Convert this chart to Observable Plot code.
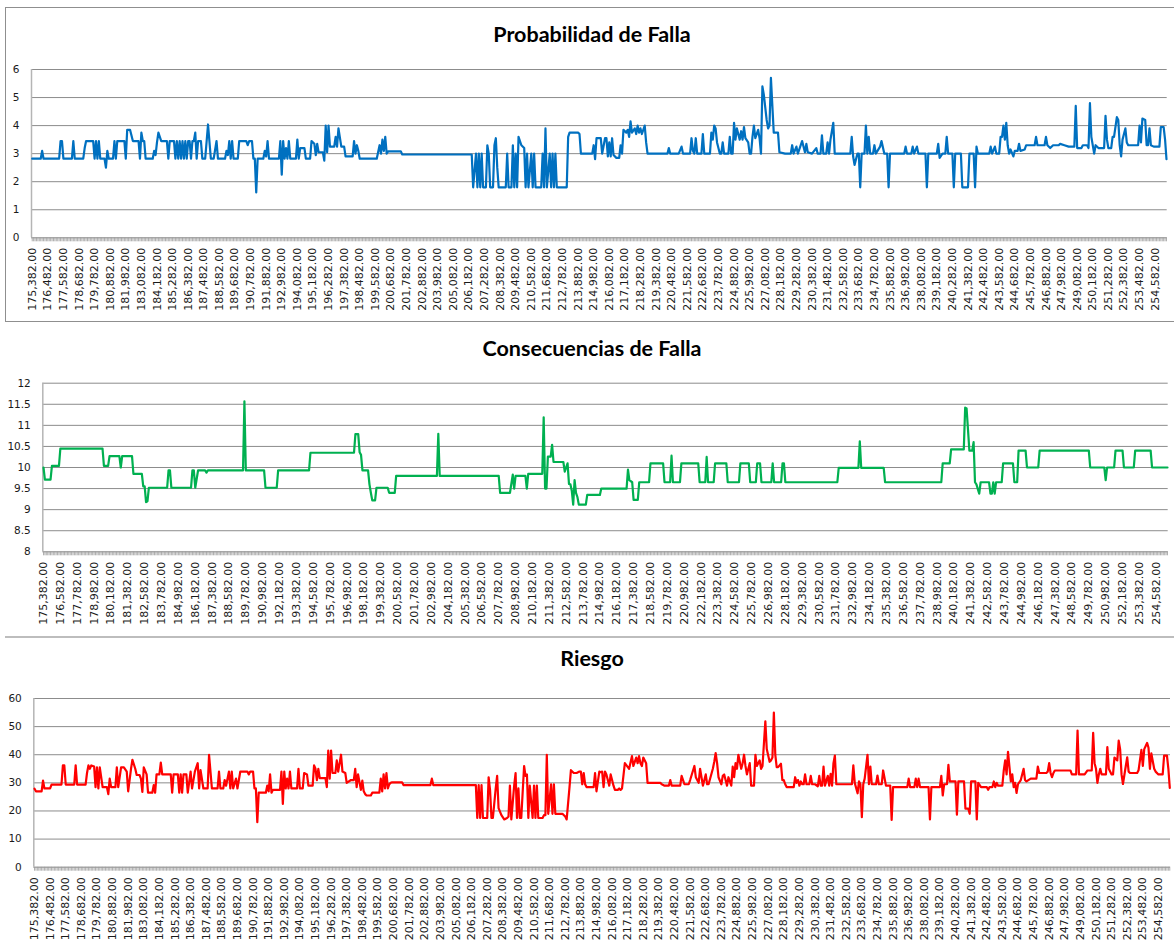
<!DOCTYPE html>
<html>
<head>
<meta charset="utf-8">
<script src="https://cdn.jsdelivr.net/npm/d3@7"></script>
<script src="https://cdn.jsdelivr.net/npm/@observablehq/plot@0.6"></script>
<style>
  html, body { margin: 0; padding: 0; background: #fff; }
  #wrap { position: relative; width: 1174px; height: 948px; overflow: hidden; background: #fff; }
  .panel { position: absolute; left: 0; }
  .title { position: absolute; transform: translateX(-50%); font-family: Lato, "Open Sans", sans-serif; font-weight: 700; font-size: 21.5px; line-height: 22px; color: #000; white-space: nowrap; }
  .box { position: absolute; box-sizing: border-box; }
</style>
</head>
<body>
<div id="wrap"></div>
<script>
// ---------------- data: [chainage (m), value] ----------------
const probabilidad = [
[175382,2.82],[175982,2.82],[176082,3.1],[176182,2.82],[177282,2.82],[177382,3.45],[177482,3.45],[177582,2.82],[178182,2.82],[178282,3.45],[178382,2.82],[178982,2.82],[179082,3.2],[179182,3.45],[179682,3.45],[179782,2.82],[179882,3.45],[179982,2.82],[180082,3.45],[180182,2.82],[180482,2.82],[180582,2.5],[180682,3.1],[180782,2.82],[181082,2.82],[181182,3.45],[181282,2.82],[181382,3.45],[181882,3.45],[181982,2.82],[182082,3.85],[182282,3.85],[182482,3.45],[182882,3.45],[182982,2.82],[183082,3.75],[183182,3.45],[183282,3.45],[183382,2.82],[183882,2.82],[183982,3.1],[184082,2.95],[184182,3.4],[184282,3.75],[184482,3.45],[184882,3.45],[184982,2.82],[185082,3.45],[185382,3.45],[185482,2.82],[185582,3.45],[185682,2.82],[185782,3.45],[185882,2.82],[185982,3.45],[186082,2.82],[186182,3.45],[186282,2.82],[186382,3.45],[186482,3.45],[186582,2.82],[186682,3.45],[186782,3.45],[186882,3.75],[186982,2.82],[187082,3.45],[187282,3.45],[187382,2.82],[187582,2.82],[187782,4.04],[187982,2.82],[188182,2.82],[188382,3.45],[188482,2.82],[188982,2.82],[189082,3.1],[189182,2.95],[189282,3.45],[189382,2.82],[189482,3.45],[189582,2.82],[189882,2.82],[189982,3.45],[190482,3.45],[190582,3.3],[190682,3.45],[190882,3.45],[190982,2.82],[191082,2.82],[191182,1.62],[191282,2.82],[191682,2.82],[191782,3.1],[191882,2.9],[191982,3.45],[192082,2.82],[192782,2.82],[192882,3.45],[192982,2.25],[193082,3.45],[193182,2.82],[193282,3.2],[193382,2.82],[193482,3.45],[193582,2.82],[193982,2.82],[194082,3.5],[194182,2.82],[194282,3.2],[194582,3.2],[194682,2.82],[194982,2.82],[195082,3.45],[195282,3.35],[195382,2.95],[195482,3.35],[195582,3.05],[195882,3.05],[195982,2.75],[196082,4.0],[196182,3.05],[196282,4.0],[196382,3.25],[196682,3.25],[196782,3.6],[196882,3.25],[196982,3.9],[197182,3.25],[197382,3.25],[197482,2.9],[197982,2.9],[198082,3.45],[198182,3.0],[198282,3.3],[198382,3.1],[198482,2.82],[199682,2.82],[199882,3.3],[199982,3.0],[200082,3.5],[200182,3.1],[200282,3.6],[200382,3.0],[200482,3.08],[201382,3.08],[201482,2.97],[206382,2.97],[206482,1.8],[206682,3.0],[206782,1.8],[206882,3.0],[206982,1.8],[207082,3.0],[207182,1.8],[207382,1.8],[207482,3.3],[207582,3.0],[207682,1.8],[207882,1.8],[207982,3.3],[208082,3.55],[208182,2.5],[208282,1.8],[208782,1.8],[208882,3.0],[208982,1.8],[209182,1.8],[209282,3.3],[209382,1.8],[209482,3.0],[209582,1.8],[209682,3.6],[209882,3.3],[210082,3.2],[210182,1.8],[210282,3.0],[210382,1.8],[210582,3.0],[210682,1.8],[210782,3.0],[210882,1.8],[211282,1.8],[211382,3.0],[211482,1.8],[211582,3.9],[211682,1.8],[211882,3.0],[211982,1.8],[212082,3.0],[212182,1.8],[212282,3.0],[212382,1.8],[213082,1.8],[213182,3.6],[213282,3.75],[213882,3.75],[213982,3.7],[214082,3.0],[214882,3.0],[214982,3.3],[215082,2.8],[215182,3.55],[215482,3.55],[215582,3.0],[215782,3.55],[215882,3.55],[215982,2.9],[216082,3.4],[216182,2.9],[216282,3.55],[216382,2.95],[216582,2.85],[216782,2.85],[216882,3.3],[216982,3.0],[217082,3.85],[217282,3.75],[217382,3.85],[217482,3.6],[217582,4.15],[217682,3.75],[217882,3.9],[217982,3.7],[218082,4.0],[218182,3.75],[218282,3.9],[218382,3.7],[218582,4.0],[218682,3.4],[218782,3.0],[220182,3.0],[220282,3.2],[220382,3.0],[220982,3.0],[221182,3.25],[221282,3.0],[221782,3.0],[221882,3.55],[221982,3.1],[222082,3.0],[222182,3.55],[222282,3.0],[222582,3.0],[222682,3.7],[222782,3.0],[223182,3.0],[223282,3.75],[223382,3.5],[223482,4.0],[223582,3.9],[223682,3.4],[223882,3.0],[223982,3.0],[224082,3.4],[224182,3.0],[224482,3.0],[224582,3.6],[224682,3.0],[224782,3.0],[224882,4.1],[224982,3.5],[225082,3.9],[225282,3.5],[225382,3.8],[225482,3.5],[225582,3.95],[225682,3.55],[225882,3.4],[225982,3.0],[226082,3.0],[226182,3.6],[226282,4.0],[226382,3.55],[226582,3.85],[226682,3.55],[226782,3.0],[226882,5.4],[226982,5.1],[227182,4.2],[227282,3.9],[227382,4.0],[227482,5.7],[227682,3.75],[227982,3.75],[228082,3.05],[228482,3.0],[228882,3.0],[228982,3.3],[229082,3.0],[229282,3.25],[229382,3.0],[229682,3.45],[229882,3.05],[229982,3.35],[230082,3.05],[230382,3.0],[230682,3.2],[230782,3.0],[230982,3.0],[231082,3.65],[231182,3.0],[231382,3.0],[231482,3.4],[231582,3.0],[231682,3.5],[231882,4.1],[231982,3.0],[233082,3.0],[233182,3.6],[233282,2.9],[233382,2.6],[233582,3.0],[233682,3.0],[233782,1.8],[233882,3.0],[234082,3.0],[234182,4.0],[234282,3.0],[234382,3.6],[234482,3.0],[234682,3.0],[234782,3.3],[234882,3.0],[235182,3.25],[235282,3.45],[235482,3.0],[235682,3.0],[235782,1.8],[235882,3.0],[236882,3.0],[236982,3.25],[237082,3.0],[237382,3.0],[237482,3.25],[237582,3.0],[237782,3.25],[237882,3.0],[238382,3.0],[238482,1.8],[238582,3.0],[239182,3.0],[239282,3.35],[239382,2.85],[239582,3.0],[239782,3.0],[239882,3.6],[239982,3.0],[240282,3.0],[240382,1.8],[240482,3.0],[240882,3.0],[240982,1.8],[241382,1.8],[241482,3.0],[241782,3.0],[241882,1.8],[241982,3.25],[242082,3.0],[242882,3.0],[242982,3.25],[243082,3.0],[243282,3.25],[243382,3.0],[243582,3.0],[243682,3.6],[243782,3.6],[243882,4.0],[243982,3.5],[244082,4.1],[244182,3.3],[244282,3.0],[244382,3.15],[244582,2.9],[244682,3.1],[244882,3.1],[244982,3.35],[245082,3.1],[245382,3.15],[245482,3.3],[246082,3.3],[246182,3.6],[246282,3.3],[246782,3.3],[246882,3.6],[246982,3.3],[247182,3.2],[247382,3.3],[247782,3.3],[247882,3.35],[248182,3.3],[248482,3.25],[248882,3.25],[248982,4.7],[249082,3.2],[249382,3.2],[249482,3.3],[249782,3.3],[249882,3.2],[249982,4.8],[250082,3.6],[250282,3.0],[250382,3.3],[250582,3.2],[250982,3.2],[251082,4.35],[251182,3.5],[251282,3.2],[251482,3.2],[251582,3.6],[251682,3.6],[251882,4.3],[251982,4.2],[252082,3.3],[252182,2.9],[252282,3.5],[252482,3.9],[252582,3.4],[252682,3.3],[253382,3.3],[253482,4.0],[253582,3.4],[253682,4.25],[253882,4.2],[253982,3.3],[254082,3.3],[254182,3.9],[254282,3.3],[254482,3.25],[254882,3.25],[254982,3.95],[255182,3.95],[255282,3.5],[255382,2.8]
];

const consecuencias = [
[175382,10.0],[175482,9.71],[175882,9.71],[175982,10.04],[176482,10.04],[176582,10.45],[179582,10.45],[179682,10.04],[179982,10.04],[180082,10.27],[180782,10.27],[180882,10.0],[180982,10.27],[181682,10.27],[181782,9.85],[182382,9.85],[182482,9.55],[182582,9.55],[182682,9.18],[182782,9.2],[182882,9.52],[184182,9.52],[184282,9.93],[184382,9.93],[184482,9.52],[185882,9.52],[185982,9.93],[186082,9.93],[186182,9.52],[186382,9.93],[186882,9.93],[186982,9.88],[187082,9.93],[189582,9.93],[189682,11.57],[189782,9.93],[191082,9.93],[191182,9.52],[191982,9.52],[192082,9.93],[194282,9.93],[194382,10.35],[197482,10.35],[197582,10.79],[197782,10.79],[197882,10.36],[197982,10.3],[198082,9.93],[198482,9.93],[198582,9.6],[198682,9.4],[198782,9.22],[198982,9.22],[199082,9.52],[199882,9.52],[199982,9.4],[200382,9.4],[200482,9.8],[203382,9.8],[203482,10.8],[203582,9.8],[207782,9.8],[207882,9.4],[208582,9.4],[208782,9.83],[208882,9.5],[208982,9.8],[209682,9.8],[209782,9.5],[209882,9.85],[210882,9.85],[210982,11.19],[211082,9.5],[211182,9.5],[211282,10.26],[211482,10.26],[211582,10.54],[211682,10.13],[212382,10.13],[212482,9.9],[212682,10.1],[212782,9.61],[212882,9.6],[212982,9.45],[213082,9.12],[213182,9.7],[213282,9.4],[213382,9.3],[213482,9.12],[213982,9.12],[214082,9.35],[214982,9.35],[215082,9.5],[216882,9.5],[216982,9.95],[217082,9.7],[217282,9.65],[217382,9.23],[217682,9.23],[217782,9.65],[218482,9.65],[218582,10.1],[219482,10.1],[219582,9.65],[219982,9.65],[220082,10.28],[220182,9.65],[220682,9.65],[220782,10.1],[221982,10.1],[222082,9.65],[222482,9.65],[222582,10.25],[222682,9.65],[223082,9.65],[223182,10.1],[223982,10.1],[224082,9.65],[224882,9.65],[224982,10.1],[225582,10.1],[225682,9.65],[226082,9.65],[226182,10.1],[226382,10.1],[226482,9.65],[227182,9.65],[227282,10.1],[227382,9.65],[227882,9.65],[227982,10.1],[228082,10.1],[228182,9.65],[231882,9.65],[231982,9.99],[233382,9.99],[233482,10.62],[233582,9.99],[235182,9.99],[235282,9.65],[239282,9.65],[239382,10.1],[239882,10.1],[239982,10.43],[240882,10.43],[240982,11.42],[241082,11.4],[241282,10.4],[241482,10.4],[241582,10.6],[241682,9.65],[241782,9.6],[241982,9.38],[242082,9.65],[242682,9.65],[242782,9.38],[242882,9.38],[242982,9.65],[243082,9.38],[243182,9.65],[243582,9.65],[243682,10.1],[244382,10.1],[244482,9.65],[244682,9.65],[244782,10.4],[245282,10.4],[245382,10.0],[246182,10.0],[246282,10.4],[249782,10.4],[249882,10.0],[250882,10.0],[250982,9.7],[251082,10.0],[251582,10.0],[251682,10.4],[252182,10.4],[252282,10.0],[252982,10.0],[253082,10.4],[254182,10.4],[254282,10.0],[255382,10.0]
];

const riesgo = [
[175382,27.9],[175482,27.0],[175882,27.0],[175982,30.8],[176082,28.0],[176482,28.0],[176582,29.4],[177282,29.4],[177382,36.2],[177482,36.2],[177582,29.4],[178182,29.4],[178282,36.2],[178382,29.4],[178982,29.4],[179082,33.5],[179182,36.2],[179282,35],[179382,36.2],[179582,35.8],[179682,28.5],[179782,35.5],[179882,28],[179982,35.5],[180182,28.5],[180482,28.5],[180582,26],[180682,31.5],[180782,28.5],[181082,28.5],[181182,35.5],[181282,28.5],[181482,35.5],[181682,35.5],[181882,34],[181982,27],[182182,35],[182282,38.2],[182482,35],[182582,32.8],[182782,32.8],[182882,31.5],[182982,26.8],[183082,35.5],[183282,33],[183382,26.5],[183682,26.5],[183782,29.2],[183882,26.5],[183982,33],[184182,33],[184282,37.2],[184382,33],[184982,33],[185082,26.5],[185182,33],[185482,33],[185582,26.5],[185682,33],[185782,26.5],[185882,33],[186082,33],[186182,26.5],[186382,34],[186482,28],[186682,34],[186882,37],[186982,28],[187082,34.5],[187282,28],[187582,28],[187682,40],[187882,28],[188282,28],[188382,34],[188482,28],[188682,28],[188782,31],[188882,29],[189082,34],[189182,28],[189282,34],[189382,28],[189582,31.5],[189682,28],[189882,34],[190382,34],[190482,33],[190582,34],[190782,34],[190882,28],[190982,28],[191082,16],[191182,26.5],[191682,26.5],[191782,29],[191882,27],[191982,33],[192082,26.5],[192182,27.5],[192682,27.5],[192782,34],[192882,22.5],[192982,34],[193082,28],[193182,31.5],[193282,28],[193382,34],[193482,28],[193882,28],[193982,35],[194082,28],[194282,28],[194382,33.5],[194582,33],[194682,29],[194982,29],[195082,36.2],[195182,35],[195282,31],[195382,35],[195482,31.7],[195882,31.7],[195982,28.5],[196082,41.5],[196182,31.5],[196282,41.5],[196382,33.5],[196582,33.5],[196682,38],[196782,34],[196982,40],[197082,34],[197282,33.5],[197382,30],[197682,31],[197882,31],[197982,35],[198082,28.5],[198182,33],[198382,27.5],[198482,30.8],[198582,27],[198682,26],[198782,25.5],[199082,25.5],[199182,26.5],[199682,26.5],[199782,31.5],[199882,27],[199982,33],[200082,28],[200182,33.5],[200282,28],[200382,29.5],[200482,30],[200582,30.2],[201282,30.2],[201382,29.2],[203282,29.2],[203382,31.5],[203482,29.2],[206482,29.2],[206582,17.5],[206682,29.2],[206782,17.5],[206882,29.2],[206982,17.5],[207282,17.5],[207382,32],[207482,27.5],[207582,17.5],[207682,17.5],[207882,28],[207982,32.5],[208082,21],[208282,18.5],[208482,17],[208682,17.5],[208782,18],[208882,29],[208982,17],[209182,29],[209282,33.5],[209382,17.5],[209482,28],[209582,17.5],[209682,17.5],[209882,36],[209982,32.5],[210082,33],[210182,17.5],[210282,29],[210482,17.5],[210582,29],[210682,17.5],[210782,29],[210882,17.5],[211182,17.5],[211282,18.5],[211382,18.5],[211482,40],[211582,19],[211782,29.5],[211882,19],[211982,29.5],[212082,19],[212582,19],[212782,18],[212882,17],[213082,28.5],[213182,34.5],[213382,33.5],[213582,33.5],[213782,34],[213882,34],[213982,29.5],[214082,33.5],[214182,29.5],[214282,28.5],[214782,28.5],[214882,33.5],[214982,27],[215182,34],[215282,33.8],[215382,34],[215482,28.5],[215582,34],[215682,33],[215882,29],[215982,33],[216082,31],[216182,29],[216282,27.5],[216482,27.5],[216582,28],[216682,27.5],[216782,28],[216982,37],[217282,35],[217482,39.5],[217582,36],[217782,39],[217882,37],[217982,39.5],[218082,37],[218182,36],[218282,39],[218482,37],[218582,30],[219482,30],[219582,29.5],[219782,29],[220082,29],[220182,31],[220282,29],[220882,29],[220982,32.5],[221182,29.5],[221482,29.5],[221582,31],[221882,36],[221982,32],[222182,30],[222282,35],[222482,29],[222682,33],[222782,29.5],[222882,29.5],[223182,35],[223282,37.5],[223382,40.6],[223482,37],[223582,32],[223782,29.5],[223882,32.5],[223982,33],[224182,29],[224282,32],[224482,29],[224582,35.8],[224682,32],[224782,37],[224882,35],[224982,40],[225182,35],[225282,37],[225382,40],[225482,36],[225582,33],[225782,37],[225882,29],[226082,29],[226182,40],[226282,36],[226482,38],[226582,35],[226682,36],[226882,51.9],[226982,42],[227182,37.5],[227282,38],[227382,39],[227482,55],[227582,40],[227682,35.6],[227782,35.6],[227982,36.8],[228082,31],[228182,31],[228282,29.5],[228382,28.5],[228882,28.5],[228982,32],[229082,30],[229182,31],[229282,29],[229382,30.5],[229482,29.5],[229582,29.5],[229682,33],[229782,29.5],[229982,29.5],[230082,32.5],[230182,29.5],[230382,29.5],[230582,28.8],[230682,32.5],[230782,29],[230882,29],[230982,35.8],[231082,29],[231282,32.5],[231382,29],[231482,33.2],[231582,29],[231682,37],[231782,39.7],[231882,29.5],[232982,29.5],[233082,36.2],[233182,30],[233382,26.3],[233482,30.5],[233582,29.5],[233682,17.8],[233782,29.5],[233882,31.5],[234082,40],[234182,29.5],[234282,35.8],[234382,29.5],[234682,29.5],[234782,32.6],[234882,29.5],[235082,29.5],[235182,34.4],[235382,29],[235682,29],[235782,16.8],[235882,28.5],[236882,28.5],[236982,31.5],[237082,28.5],[237382,28.5],[237482,31.5],[237582,28.5],[237682,31.5],[237782,28.5],[238382,28.5],[238482,17],[238582,28.5],[239182,28.5],[239282,32.5],[239382,25.5],[239482,29.5],[239682,29.5],[239782,36.4],[239882,30.5],[240282,30.5],[240382,18.7],[240482,30.5],[240882,30.5],[240982,20.8],[241182,20.8],[241282,19],[241382,30.5],[241682,30.5],[241782,17],[241882,30],[242082,28.5],[242482,28.5],[242582,27.5],[242682,28.5],[242882,28.5],[242982,30.5],[243082,28.5],[243182,30],[243282,29],[243582,29],[243682,34.4],[243782,38],[243882,33],[243982,41],[244182,30.5],[244282,33],[244382,28.5],[244482,30],[244582,26.4],[244682,29.5],[244882,31],[245082,35],[245182,31],[245282,30.5],[245582,31.5],[245982,31.5],[246082,35.8],[246182,33.5],[246682,33.5],[246782,34],[246882,37],[246982,33.5],[247082,32],[247182,33.5],[247282,34.4],[248382,34.4],[248482,33],[248782,33],[248882,48.6],[248982,33],[249382,33],[249582,34.4],[249882,34.4],[249982,47.8],[250082,37],[250182,35],[250282,30],[250382,33],[250482,35],[250582,33],[250882,33],[250982,42.7],[251082,35],[251282,33],[251382,33],[251482,39],[251682,38],[251782,45],[251882,42],[251982,33],[252082,29.6],[252282,36],[252382,39.1],[252482,34],[252582,33.5],[253082,33.5],[253182,34.5],[253382,41.7],[253482,36],[253582,42],[253782,44.2],[253882,42.5],[253982,35],[254082,40.5],[254282,35],[254382,34],[254582,33],[254882,33],[254982,39.7],[255182,39.7],[255282,35],[255382,28.2]
];

// category axis: one station every 100 m
const firstStation = 175382, lastStation = 255382, stationStep = 100;
const stations = d3.range(firstStation, lastStation + 1, stationStep);

// tick labels shown on the category axes
const ticksEvery11 = [175382,176482,177582,178682,179782,180882,181982,183082,184182,185282,186382,187482,188582,189682,190782,191882,192982,194082,195182,196282,197382,198482,199582,200682,201782,202882,203982,205082,206182,207282,208382,209482,210582,211682,212782,213882,214982,216082,217182,218282,219382,220482,221582,222682,223782,224882,225982,227082,228182,229282,230382,231482,232582,233682,234782,235882,236982,238082,239182,240282,241382,242482,243582,244682,245782,246882,247982,249082,250182,251282,252382,253482,254582];
const ticksEvery12 = [175382,176582,177782,178982,180182,181382,182582,183782,184982,186182,187382,188582,189782,190982,192182,193382,194582,195782,196982,198182,199382,200582,201782,202982,204182,205382,206582,207782,208982,210182,211382,212582,213782,214982,216182,217382,218582,219782,220982,222182,223382,224582,225782,226982,228182,229382,230582,231782,232982,234182,235382,236582,237782,238982,240182,241382,242582,243782,244982,246182,247382,248582,249782,250982,252182,253382,254582];

const yTicksProb = [0,1,2,3,4,5,6];
const yTicksCons = [8,8.5,9,9.5,10,10.5,11,11.5,12];
const yTicksRiesgo = [0,10,20,30,40,50,60];

const titles = ["Probabilidad de Falla", "Consecuencias de Falla", "Riesgo"];
const colors = ["#0070C0", "#00B050", "#FF0000"];

// ---------------- drawing ----------------
const fmt = d3.format(",.2f");
const xDomain = [firstStation - stationStep / 2, lastStation + stationStep / 2];

function panel({data, color, yDomain, yTicks, xTicks, height, mt, mb, ml, mr}) {
  return Plot.plot({
    width: 1174, height,
    marginTop: mt, marginBottom: mb, marginLeft: ml, marginRight: mr,
    x: {domain: xDomain},
    y: {domain: yDomain},
    style: {fontFamily: "'DejaVu Sans', Verdana, sans-serif", background: "none", overflow: "visible", color: "#1a1a1a"},
    marks: [
      Plot.gridY(yTicks, {stroke: "#8c8c8c", strokeOpacity: 1, strokeWidth: 1}),
      Plot.axisY({ticks: yTicks, tickSize: 0, tickPadding: 12, tickFormat: d => String(d), fontSize: 10.5, label: null}),
      Plot.axisX({ticks: stations, tickSize: 4, tickFormat: () => "", stroke: "#9a9a9a", strokeWidth: 0.8, label: null}),
      Plot.axisX({ticks: xTicks, tickSize: 0, tickPadding: 10, tickRotate: -90, tickFormat: fmt, fontSize: 11, label: null}),
      Plot.ruleX([xDomain[0]], {stroke: "#b5b5b5", strokeWidth: 1.5}),
      Plot.line(data, {x: d => d[0], y: d => d[1], stroke: color, strokeWidth: 2.2})
    ]
  });
}

const wrap = document.getElementById("wrap");
function place(el, top) { el.classList.add("panel"); el.style.top = top + "px"; wrap.appendChild(el); }

// outer frames
const box1 = document.createElement("div");
box1.className = "box";
Object.assign(box1.style, {left: "5px", top: "7px", width: "1200px", height: "315px", border: "1px solid #8f8f8f"});
wrap.appendChild(box1);
const sep = document.createElement("div");
sep.className = "box";
Object.assign(sep.style, {left: "5px", top: "636px", width: "1200px", height: "2px", background: "#bdbdbd"});
wrap.appendChild(sep);

place(panel({data: probabilidad, color: colors[0], yDomain: [0, 6], yTicks: yTicksProb, xTicks: ticksEvery11,
  height: 321, mt: 69, mb: 83.7, ml: 31, mr: 7.3}), 0);
place(panel({data: consecuencias, color: colors[1], yDomain: [8, 12], yTicks: yTicksCons, xTicks: ticksEvery12,
  height: 315, mt: 61.7, mb: 84.7, ml: 42.3, mr: 6.3}), 321);
place(panel({data: riesgo, color: colors[2], yDomain: [0, 60], yTicks: yTicksRiesgo, xTicks: ticksEvery11,
  height: 312, mt: 62, mb: 81.3, ml: 33.3, mr: 4}), 636);

const titleTops = [23, 337, 647];
titles.forEach((t, k) => {
  const d = document.createElement("div");
  d.className = "title";
  d.textContent = t;
  d.style.left = "592px";
  d.style.top = titleTops[k] + "px";
  wrap.appendChild(d);
});
</script>
</body>
</html>
